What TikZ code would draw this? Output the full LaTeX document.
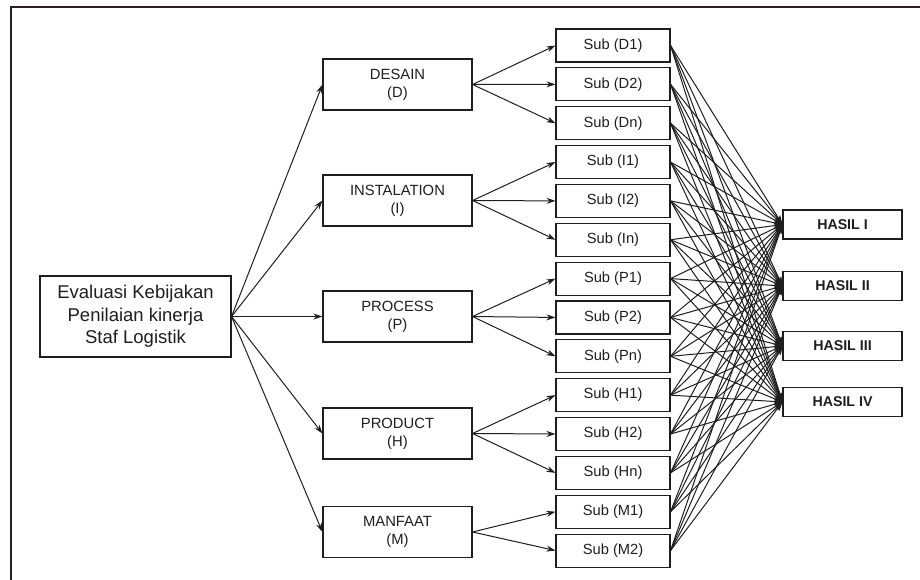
\documentclass[tikz,border=0pt]{standalone}
\usepackage{fontspec}
\setmainfont{Liberation Sans}
\usetikzlibrary{arrows.meta}
\definecolor{framecol}{RGB}{42,32,32}
\definecolor{inkcol}{RGB}{30,30,30}
\begin{document}
\begin{tikzpicture}[x=1pt,y=-1pt,
  box/.style={draw=inkcol, line width=1.1pt, inner sep=0pt, align=center, text=inkcol},
  mainbox/.style={box, minimum width=191pt, minimum height=81pt, font=\fontsize{18.5}{22.5}\selectfont},
  catbox/.style={box, minimum width=149pt, minimum height=51pt, font=\fontsize{14.8}{18}\selectfont},
  subbox/.style={box, minimum width=114pt, minimum height=33pt, font=\fontsize{14.7}{17}\selectfont},
  resbox/.style={box, minimum width=119pt, minimum height=29pt, font=\bfseries\fontsize{14.2}{17}\selectfont},
  arr/.style={draw=inkcol, line width=1pt, -{Stealth[length=9pt,width=6pt]}}]
\useasboundingbox (0,0) rectangle (920,580);

% outer frame (top and left edges)
\draw[framecol, line width=2.6pt] (11,581) -- (11,7) -- (921,7);

% evaluation subject
\node[mainbox] (main) at (135.5,316.5) {Evaluasi Kebijakan\\Penilaian kinerja\\Staf Logistik};

% evaluation components
\node[catbox] (cD) at (397.5,84.5)  {DESAIN\\(D)};
\node[catbox] (cI) at (397.5,200.5) {INSTALATION\\(I)};
\node[catbox] (cP) at (397.5,316.5) {PROCESS\\(P)};
\node[catbox] (cH) at (397.5,433.5) {PRODUCT\\(H)};
\node[catbox] (cM) at (397.5,532)   {MANFAAT\\(M)};

% sub-components
\foreach \lab [count=\i] in {D1,D2,Dn,I1,I2,In,P1,P2,Pn,H1,H2,Hn,M1,M2}
  \node[subbox] (s\i) at (613,{45.5+(\i-1)*38.85}) {Sub (\lab)};

% results
\node[resbox] (h1) at (842.5,224.5) {HASIL I};
\node[resbox] (h2) at (842.5,286)   {HASIL II};
\node[resbox] (h3) at (842.5,346)   {HASIL III};
\node[resbox] (h4) at (842.5,402)   {HASIL IV};

% subject -> components
\foreach \c in {cD,cI,cP,cH,cM}
  \draw[arr] (main.east) -- (\c.west);

% components -> sub-components
\foreach \i in {1,2,3} \draw[arr] (cD.east) -- (s\i.west);
\foreach \i in {4,5,6} \draw[arr] (cI.east) -- (s\i.west);
\foreach \i in {7,8,9} \draw[arr] (cP.east) -- (s\i.west);
\foreach \i in {10,11,12} \draw[arr] (cH.east) -- (s\i.west);
\foreach \i in {13,14} \draw[arr] (cM.east) -- (s\i.west);

% every sub-component -> every result
\foreach \i in {1,...,14}
  \foreach \j in {1,...,4}
    \draw[arr] (s\i.east) -- (h\j.west);
\end{tikzpicture}
\end{document}
